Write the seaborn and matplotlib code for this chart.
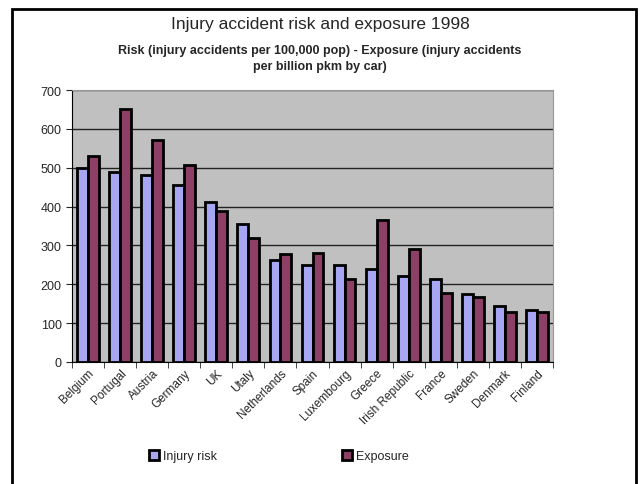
import pandas as pd
import matplotlib.pyplot as plt
import seaborn as sns
from matplotlib.patches import Rectangle

countries = ['Belgium', 'Portugal', 'Austria', 'Germany', 'UK', 'Utaly', 'Netherlands',
             'Spain', 'Luxembourg', 'Greece', 'Irish Republic', 'France', 'Sweden',
             'Denmark', 'Finland']
injury_risk = [500, 490, 480, 455, 412, 355, 263, 250, 250, 239, 222, 213, 175, 145, 135]
exposure = [530, 650, 572, 507, 389, 318, 278, 281, 213, 366, 291, 177, 166, 128, 128]

df = pd.DataFrame({'Country': countries, 'Injury risk': injury_risk, 'Exposure': exposure})
long_df = df.melt(id_vars='Country', var_name='Series', value_name='Value')

sns.set_style('white')
plt.rcParams['font.family'] = ['Liberation Sans', 'DejaVu Sans']

fig = plt.figure(figsize=(6.4, 4.85), dpi=100)
ax = fig.add_axes([72 / 640, 1 - 363 / 485, (553 - 72) / 640, (363 - 91) / 485])

sns.barplot(data=long_df, x='Country', y='Value', hue='Series',
            palette=['#9999FF', '#993366'], edgecolor='black', linewidth=2,
            width=0.68, ax=ax, zorder=3)

ax.set_facecolor('#C0C0C0')
ax.set_ylim(0, 700)
ax.set_yticks(range(0, 701, 100))
ax.yaxis.grid(True, color='#222222', linewidth=1, zorder=0)
ax.set_axisbelow(True)
ax.set_xlabel('')
ax.set_ylabel('')
for side in ['top', 'right']:
    ax.spines[side].set_color('#999999')
for side in ['left', 'bottom']:
    ax.spines[side].set_color('black')
ax.tick_params(axis='y', labelsize=9, length=4, direction='out', left=True)
ax.tick_params(axis='x', labelsize=8.5, length=4, direction='out', bottom=True)
ax.set_xticks([i - 0.5 for i in range(16)], minor=True)
ax.tick_params(axis='x', which='major', length=0)
ax.tick_params(axis='x', which='minor', length=4, bottom=True)
plt.setp(ax.get_xticklabels(), rotation=45, ha='right', rotation_mode='anchor')

handles, labels = ax.get_legend_handles_labels()
ax.legend(handles, labels, loc='center', bbox_to_anchor=(279 / 640, 1 - 457 / 485),
          bbox_transform=fig.transFigure, ncol=2, frameon=False, fontsize=9,
          columnspacing=10, handlelength=0.8, handleheight=0.8, handletextpad=0.3)

fig.text(0.5, 1 - 25 / 485, 'Injury accident risk and exposure 1998',
         ha='center', va='center', fontsize=12.5)
fig.text(0.5, 1 - 59 / 485,
         'Risk (injury accidents per 100,000 pop) - Exposure (injury accidents\nper billion pkm by car)',
         ha='center', va='center', fontsize=9, fontweight='bold', linespacing=1.5)

fig.patches.append(Rectangle((12 / 640, -0.01), (636 - 12) / 640, 1 - 10 / 485 + 0.01,
                             transform=fig.transFigure, fill=False,
                             edgecolor='black', linewidth=2))

fig.savefig('out.png', dpi=100)
